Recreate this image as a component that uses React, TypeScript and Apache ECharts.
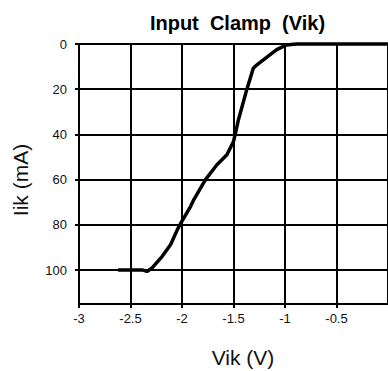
import React, { useEffect, useRef } from "react";
import * as echarts from "echarts";

const vik = [-2.62, -2.38, -2.34, -2.29, -2.19, -2.11, -2.045, -2.01, -1.916, -1.885, -1.772, -1.661, -1.564, -1.5, -1.484, -1.452, -1.372, -1.308, -1.276, -1.084, -0.988, -0.891, 0];
const iik = [100, 100, 100.6, 99, 93.8, 88.7, 82.1, 79.1, 71.8, 68.8, 60, 53.4, 49, 43.1, 40.1, 33.5, 20.3, 10.7, 9.3, 2.6, 0.4, 0, 0];
const yTicks = [0, 20, 40, 60, 80, 100];
const titleText = "Input  Clamp  (Vik)";
const xName = "Vik (V)";
const yName = "Iik (mA)";

export default function App() {
  const ref = useRef<HTMLDivElement>(null);
  useEffect(() => {
    if (!ref.current) return;
    const chart = echarts.init(ref.current, null, { renderer: "svg" });
    const font = "Liberation Sans, Arial, sans-serif";
    chart.setOption({
      animation: false,
      backgroundColor: "#fff",
      title: {
        text: titleText,
        left: 232.5,
        top: 8,
        textAlign: "center",
        textStyle: { fontFamily: font, fontSize: 20, fontWeight: "bold", color: "#000" },
      },
      grid: { left: 79, top: 44, right: -3, bottom: 67, containLabel: false },
      xAxis: {
        type: "value",
        min: -3,
        max: 0,
        interval: 0.5,
        axisLine: { onZero: false, lineStyle: { color: "#000", width: 2 } },
        axisTick: { show: true, length: 4, lineStyle: { color: "#000", width: 2 } },
        splitLine: { show: true, lineStyle: { color: "#000", width: 2 } },
        axisLabel: { showMaxLabel: false, margin: 8, fontFamily: font, fontSize: 13, color: "#111" },
      },
      yAxis: {
        type: "value",
        inverse: true,
        min: 0,
        max: 115,
        interval: 20,
        axisLine: { onZero: false, lineStyle: { color: "#000", width: 2 } },
        axisTick: { show: true, length: 4, customValues: yTicks, lineStyle: { color: "#000", width: 2 } },
        splitLine: { show: true, lineStyle: { color: "#000", width: 2 } },
        axisLabel: { customValues: yTicks, margin: 12, fontFamily: font, fontSize: 13, color: "#111" },
      },
      graphic: [
        {
          type: "text",
          x: 243,
          y: 357,
          style: { text: xName, fontFamily: font, fontSize: 21, fill: "#111", align: "center", verticalAlign: "middle" },
        },
        {
          type: "text",
          x: 20,
          y: 180,
          rotation: Math.PI / 2,
          style: { text: yName, fontFamily: font, fontSize: 21, fill: "#111", align: "center", verticalAlign: "middle" },
        },
      ],
      series: [
        {
          type: "line",
          data: vik.map((v, i) => [v, iik[i]]),
          showSymbol: false,
          symbol: "none",
          clip: false,
          lineStyle: { color: "#000", width: 3.5 },
        },
      ],
    });
    return () => chart.dispose();
  }, []);
  return (
    <div
      ref={ref}
      style={{ position: "fixed", left: 0, top: 0, width: 388, height: 371, overflow: "hidden" }}
    />
  );
}
